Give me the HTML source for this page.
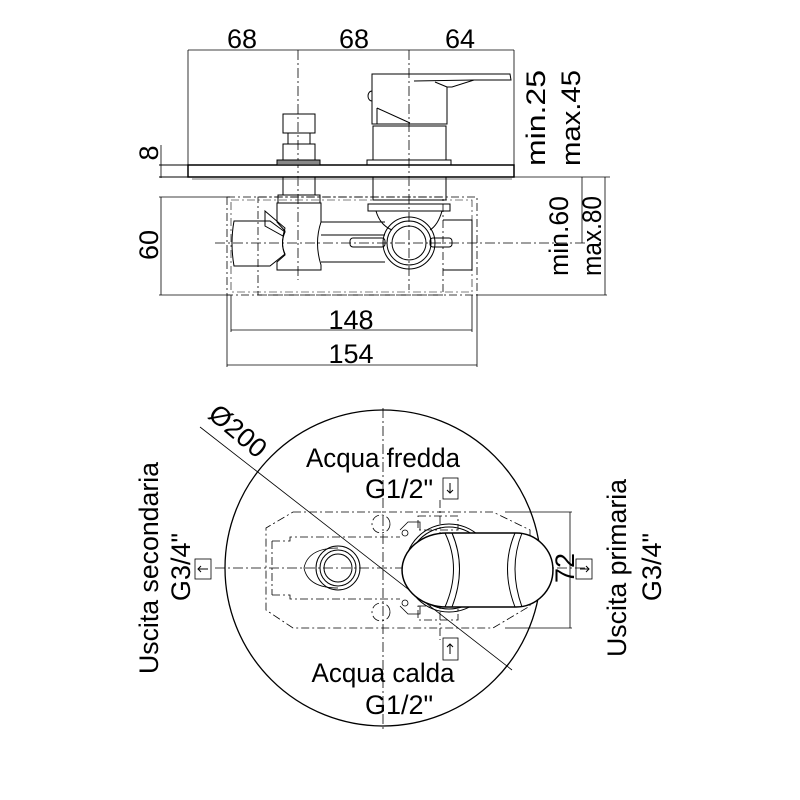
<!DOCTYPE html>
<html><head><meta charset="utf-8"><style>
html,body{margin:0;padding:0;background:#fff}
svg{display:block}
text{font-family:"Liberation Sans",Arial,sans-serif;fill:#000}
</style></head><body>
<svg width="800" height="800" viewBox="0 0 800 800" xmlns="http://www.w3.org/2000/svg">
<g fill="none" stroke="#000" stroke-width="1">
<line x1="188" y1="50" x2="514" y2="50" stroke-width="0.8"/>
<line x1="188" y1="50" x2="188" y2="165" stroke-width="0.8"/>
<line x1="514" y1="50" x2="514" y2="177" stroke-width="0.8"/>
<line x1="298" y1="50" x2="298" y2="280" stroke-dasharray="10,3,2,3" stroke-width="0.8"/>
<line x1="409" y1="50" x2="409" y2="290" stroke-dasharray="10,3,2,3" stroke-width="0.8"/>
<line x1="159" y1="165" x2="188" y2="165"/>
<line x1="159" y1="177" x2="190" y2="177"/>
<line x1="161" y1="145" x2="161" y2="178" stroke-width="0.8"/>
<line x1="159" y1="197" x2="230" y2="197" stroke-width="0.8"/>
<line x1="159" y1="295" x2="230" y2="295" stroke-width="0.8"/>
<line x1="161" y1="197" x2="161" y2="295" stroke-width="0.8"/>
<line x1="514" y1="177" x2="610" y2="177" stroke-width="0.8"/>
<line x1="582" y1="177" x2="582" y2="243" stroke-width="0.8"/>
<line x1="605" y1="177" x2="605" y2="295" stroke-width="0.8"/>
<line x1="477" y1="295" x2="607" y2="295" stroke-width="0.8"/>
<line x1="215" y1="243" x2="585" y2="243" stroke-dasharray="10,3,2,3" stroke-width="0.8"/>
<rect x="227" y="197" width="250" height="98" stroke-dasharray="8,3,2,3" stroke-width="0.8"/>
<rect x="258" y="197" width="185" height="98" stroke-dasharray="8,3,2,3" stroke-width="0.8"/>
<rect x="231" y="200" width="241" height="92" stroke-dasharray="8,3,2,3" stroke-width="0.6"/>
<line x1="231" y1="295" x2="231" y2="332" stroke-width="0.8"/>
<line x1="472" y1="295" x2="472" y2="332" stroke-width="0.8"/>
<line x1="231" y1="330" x2="472" y2="330" stroke-width="0.8"/>
<line x1="227" y1="295" x2="227" y2="367" stroke-width="0.8"/>
<line x1="477" y1="295" x2="477" y2="367" stroke-width="0.8"/>
<line x1="227" y1="365" x2="477" y2="365" stroke-width="0.8"/>
<rect x="188" y="165" width="326" height="12" stroke-width="1.5"/>
<line x1="192" y1="179" x2="512" y2="179" stroke="#777"/>
<rect x="283" y="114" width="32" height="19"/>
<rect x="288" y="133" width="22" height="11"/>
<rect x="283" y="144" width="32" height="16"/>
<rect x="277" y="160" width="43" height="5" fill="#888"/>
<rect x="283" y="177" width="32" height="18"/>
<rect x="278" y="195" width="42" height="8"/>
<path d="M277,203 L321,203 L321,222 Q314,243 321,265 L321,270 L277,270 L277,262 L285,255 Q280,243 285,231 L277,222 Z"/>
<path d="M265,211 L285,228 L283,236 L265,226 Z"/>
<path d="M234,221 L270,221 L285,232 Q280,243 285,254 L270,266 L234,266 Q230,243 234,221 Z"/>
<path d="M321,222 L385,222 M321,262 L385,262 M321,235 L385,235"/>
<rect x="350" y="238" width="35" height="9" rx="3"/>
<rect x="430" y="238" width="22" height="9" rx="3"/>
<path d="M372,74 L510,74 L511,80 L502,80 L474,80 L452,87 L447,87 L447,124 L372,124 Z"/>
<path d="M414,81 L474,80 L502,80 M447,87 L435,82"/>
<path d="M372,91 A4,5 0 0 0 372,101"/>
<path d="M377,108 L410,123 M377,108 L377,124"/>
<rect x="373" y="126" width="73" height="34"/>
<rect x="367" y="160" width="84" height="5"/>
<rect x="373" y="177" width="73" height="23"/>
<rect x="368" y="204" width="82" height="7"/>
<path d="M376,211 Q380,225 392,230 M442,211 Q438,225 430,230"/>
<circle cx="409" cy="243" r="26"/>
<circle cx="409" cy="243" r="22"/>
<circle cx="409" cy="243" r="17"/>
<path d="M443,220 L472,220 L472,270 L443,270"/>
</g>
<g font-size="27">
<text x="242" y="48" text-anchor="middle">68</text>
<text x="354" y="48" text-anchor="middle">68</text>
<text x="460" y="48" text-anchor="middle">64</text>
<text x="351" y="329" text-anchor="middle">148</text>
<text x="351" y="363" text-anchor="middle">154</text>
<text transform="translate(158,153) rotate(-90)" text-anchor="middle">8</text>
<text transform="translate(158,245) rotate(-90)" text-anchor="middle">60</text>
<text transform="translate(545,118) rotate(-90)" text-anchor="middle" textLength="96" lengthAdjust="spacingAndGlyphs">min.25</text>
<text transform="translate(580,118) rotate(-90)" text-anchor="middle" textLength="96" lengthAdjust="spacingAndGlyphs">max.45</text>
<text transform="translate(568,236) rotate(-90)" text-anchor="middle" textLength="80" lengthAdjust="spacingAndGlyphs">min.60</text>
<text transform="translate(601,236) rotate(-90)" text-anchor="middle" textLength="80" lengthAdjust="spacingAndGlyphs">max.80</text>
</g>
<g fill="none" stroke="#000" stroke-width="1">
<circle cx="383" cy="568" r="158" stroke-width="1.3"/>
<line x1="383" y1="408" x2="383" y2="732" stroke-dasharray="10,3,2,3" stroke-width="0.8"/>
<line x1="215" y1="568" x2="585" y2="568" stroke-dasharray="10,3,2,3" stroke-width="0.8"/>
<line x1="200" y1="427" x2="512" y2="670" stroke-width="0.8"/>
<line x1="440" y1="500" x2="440" y2="640" stroke-dasharray="8,3,2,3" stroke-width="0.8"/>
<line x1="505" y1="512" x2="572" y2="512" stroke-width="0.8"/>
<line x1="505" y1="628" x2="572" y2="628" stroke-width="0.8"/>
<line x1="570" y1="512" x2="570" y2="628" stroke-width="0.8"/>
<g stroke-dasharray="8,3,2,3" stroke-width="0.8">
<path d="M293,512 L493,512 L530,530 L530,606 L493,628 L293,628 L266,610 L266,528 Z"/>
<path d="M272,541 L290,541 L290,537 L400,537 M272,595 L290,595 L290,599 L400,599 M272,541 L272,595"/>
<rect x="418" y="516" width="40" height="14"/>
<rect x="418" y="606" width="40" height="14"/>
<circle cx="381" cy="524" r="9"/>
<circle cx="381" cy="612" r="9"/>
</g>
<path d="M400,530 L408,522 L420,522 L420,530 M400,606 L408,614 L420,614 L420,606" stroke-width="0.8"/>
<circle cx="405" cy="533" r="3" stroke-width="0.8"/>
<circle cx="405" cy="603" r="3" stroke-width="0.8"/>
<path d="M338,548 Q308,548 304,568 Q308,588 338,588" stroke-width="0.8"/>
<circle cx="338" cy="568" r="22"/>
<circle cx="338" cy="568" r="18"/>
<circle cx="338" cy="568" r="14"/>
<circle cx="449" cy="568" r="44"/>
<circle cx="449" cy="568" r="41"/>
<path d="M447,533 L516,533 A37,37 0 0 1 516,607 L447,607 A45,37 0 0 1 447,533 Z" fill="#fff" stroke-width="1.5"/>
<path d="M445,533 Q462,568 445,607 M452,533 Q467,568 452,607"/>
<path d="M515,533 Q500,568 515,607 M522,533 Q508,568 522,607"/>
<rect x="443" y="478" width="15" height="21" stroke-width="0.8"/>
<path d="M450,483 L450,493 M447,490 L450,493 L453,490"/>
<rect x="443" y="638" width="15" height="22" stroke-width="0.8"/>
<path d="M450,654 L450,644 M447,647 L450,644 L453,647"/>
<rect x="195" y="559" width="16" height="20" stroke-width="0.8"/>
<path d="M208,569 L198,569 M201,566 L198,569 L201,572"/>
<rect x="576" y="559" width="16" height="20" stroke-width="0.8"/>
<path d="M580,569 L589,569 M586,566 L589,569 L586,572"/>
</g>
<g font-size="27">
<text transform="translate(232,438) rotate(40)" text-anchor="middle">Ø200</text>
<text x="383" y="467" text-anchor="middle" textLength="154" lengthAdjust="spacingAndGlyphs">Acqua fredda</text>
<text x="399" y="498" text-anchor="middle">G1/2"</text>
<text x="383" y="682" text-anchor="middle" textLength="143" lengthAdjust="spacingAndGlyphs">Acqua calda</text>
<text x="399" y="714" text-anchor="middle">G1/2"</text>
<text transform="translate(574,568) rotate(-90)" text-anchor="middle">72</text>
<text transform="translate(158,568) rotate(-90)" text-anchor="middle" textLength="212" lengthAdjust="spacingAndGlyphs">Uscita secondaria</text>
<text transform="translate(190,567) rotate(-90)" text-anchor="middle">G3/4"</text>
<text transform="translate(626,568) rotate(-90)" text-anchor="middle" textLength="178" lengthAdjust="spacingAndGlyphs">Uscita primaria</text>
<text transform="translate(661,567) rotate(-90)" text-anchor="middle">G3/4"</text>
</g>
</svg>
</body></html>
